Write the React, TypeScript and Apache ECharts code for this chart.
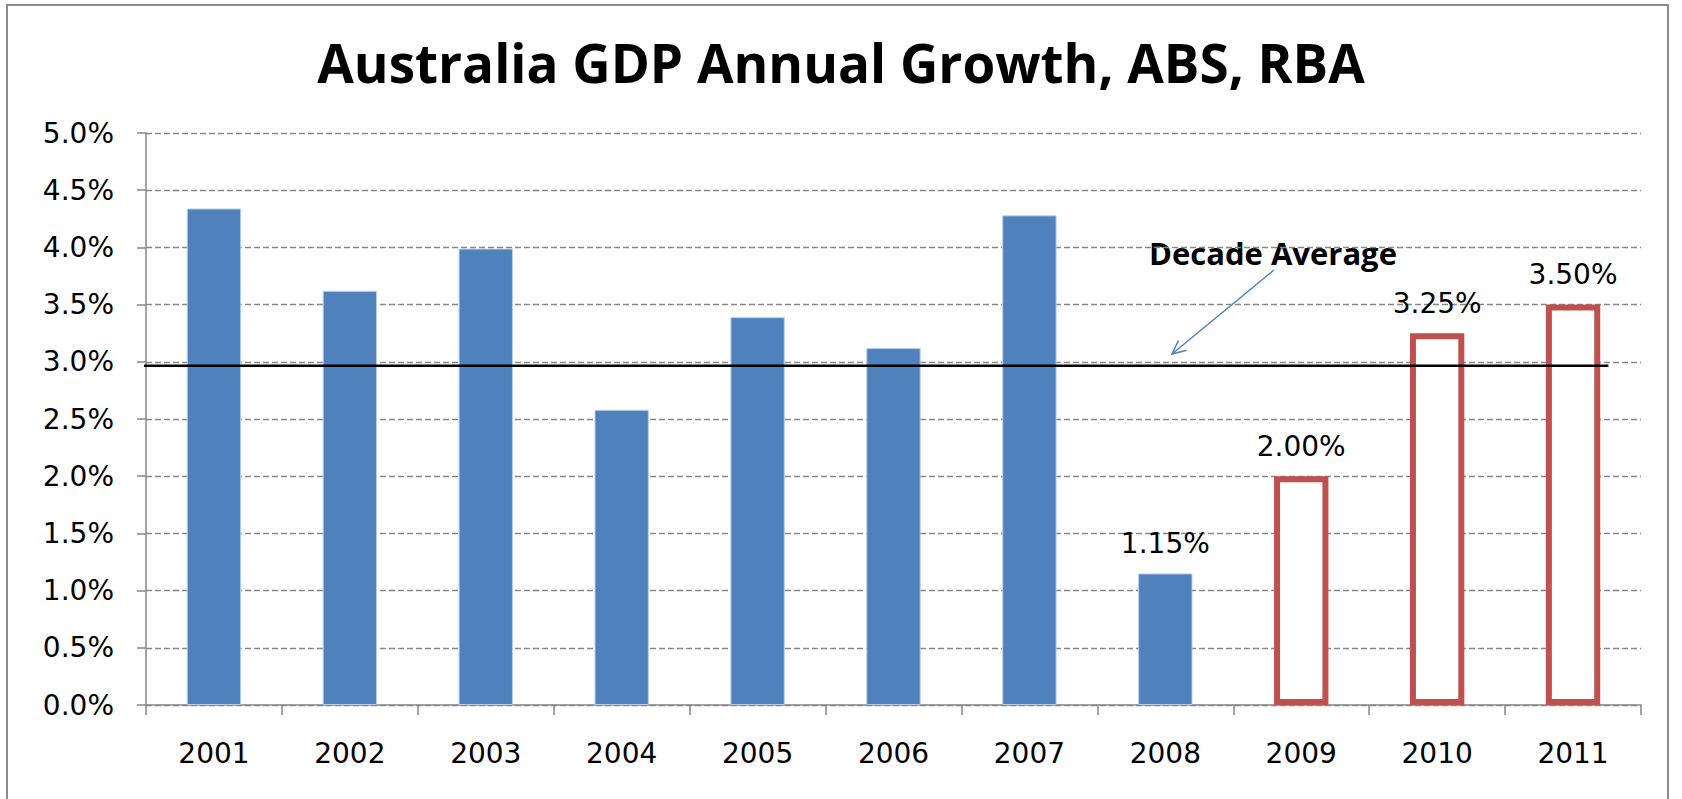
import React, { useEffect, useRef } from "react";
import * as echarts from "echarts";

const categories = ["2001", "2002", "2003", "2004", "2005", "2006", "2007", "2008", "2009", "2010", "2011"];
const actualGrowth: (number | null)[] = [4.34, 3.62, 3.99, 2.58, 3.39, 3.12, 4.28, 1.15, null, null, null];
const forecastGrowth: (number | null)[] = [null, null, null, null, null, null, null, null, 2.0, 3.25, 3.5];
const labelledActualYears = ["2008"];
const decadeAverage = 2.965;
const yMin = 0;
const yMax = 5;
const yInterval = 0.5;
const titleText = "Australia GDP Annual Growth, ABS, RBA";
const annotationText = "Decade Average";

export default function App() {
  const ref = useRef<HTMLDivElement>(null);

  useEffect(() => {
    if (!ref.current) return;
    const chart = echarts.init(ref.current, undefined, { renderer: "svg" });
    const axisGray = "#868686";
    const labelFont = "DejaVu Sans";

    const actualData = actualGrowth.map((v, i) =>
      labelledActualYears.includes(categories[i]) && v !== null
        ? { value: v, label: { show: true } }
        : v
    );

    chart.setOption({
      animation: false,
      backgroundColor: "#ffffff",
      title: {
        text: titleText,
        left: "center",
        top: 36,
        padding: 0,
        textStyle: { fontFamily: "Open Sans", fontWeight: "bold", fontSize: 53, color: "#000" },
      },
      grid: { left: 146, right: 41, top: 133, bottom: 94, containLabel: false },
      xAxis: [
        {
          type: "category",
          data: categories,
          boundaryGap: true,
          axisLine: { show: true, lineStyle: { color: axisGray, width: 1.5 } },
          axisTick: { show: true, length: 10, inside: false, lineStyle: { color: axisGray, width: 1.5 } },
          axisLabel: { fontFamily: labelFont, fontSize: 28, color: "#000", margin: 34 },
          splitLine: { show: false },
        },
        {
          type: "value",
          min: 0,
          max: categories.length,
          show: false,
        },
      ],
      yAxis: {
        type: "value",
        min: yMin,
        max: yMax,
        interval: yInterval,
        axisLine: { show: true, lineStyle: { color: axisGray, width: 1.5 } },
        axisTick: { show: true, length: 9, lineStyle: { color: axisGray, width: 1.5 } },
        axisLabel: {
          fontFamily: labelFont,
          fontSize: 28,
          color: "#000",
          margin: 32,
          formatter: (v: number) => v.toFixed(1) + "%",
        },
        splitLine: { show: true, lineStyle: { color: "#878787", width: 1.4, type: [6, 3] } },
      },
      series: [
        {
          name: "Actual",
          type: "bar",
          data: actualData,
          barWidth: "40%",
          barGap: "-100%",
          itemStyle: { color: "#4F81BD", borderColor: "#b9cde5", borderWidth: 1 },
          label: {
            show: false,
            position: "top",
            distance: 16,
            fontFamily: labelFont,
            fontSize: 28,
            color: "#000",
            formatter: (p: any) => Number(p.value).toFixed(2) + "%",
          },
        },
        {
          name: "Forecast",
          type: "bar",
          data: forecastGrowth,
          barWidth: "40%",
          barGap: "-100%",
          itemStyle: { color: "#ffffff", borderColor: "#C0504D", borderWidth: 6 },
          label: {
            show: true,
            position: "top",
            distance: 16,
            fontFamily: labelFont,
            fontSize: 28,
            color: "#000",
            formatter: (p: any) => Number(p.value).toFixed(2) + "%",
          },
        },
        {
          name: "Decade Average",
          type: "line",
          xAxisIndex: 1,
          data: [
            [-0.05, decadeAverage],
            [10.76, decadeAverage],
          ],
          symbol: "none",
          clip: false,
          lineStyle: { color: "#000", width: 2.5 },
          z: 5,
        },
      ],
      graphic: [
        {
          type: "rect",
          shape: { x: 7, y: 5, width: 1661, height: 820 },
          style: { fill: "none", stroke: "#8c8c8c", lineWidth: 2 },
          silent: true,
        },
        {
          type: "text",
          x: 1273,
          y: 253,
          style: {
            text: annotationText,
            fontFamily: "Open Sans",
            fontWeight: "bold",
            fontSize: 31,
            fill: "#000",
            align: "center",
            verticalAlign: "middle",
          },
        },
        {
          type: "line",
          shape: { x1: 1274, y1: 270, x2: 1172, y2: 354 },
          style: { stroke: "#4F81BD", lineWidth: 1.5 },
        },
        {
          type: "polyline",
          shape: { points: [[1178.5, 340.5], [1172, 354], [1186.5, 350.2]] },
          style: { stroke: "#4F81BD", lineWidth: 1.5, fill: "none" },
        },
      ],
    });

    return () => chart.dispose();
  }, []);

  return (
    <div
      ref={ref}
      style={{ position: "fixed", left: 0, top: 0, width: 1682, height: 799, background: "#fff" }}
    />
  );
}
